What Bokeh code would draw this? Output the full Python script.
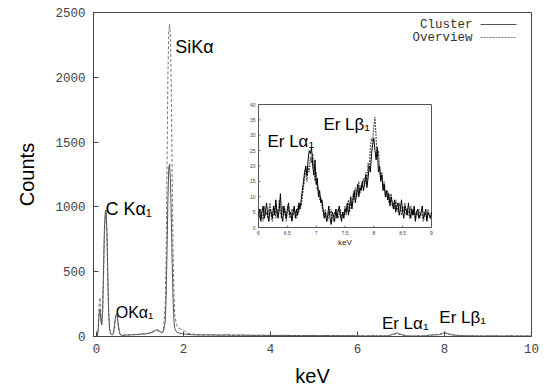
import numpy as np
from bokeh.plotting import figure
from bokeh.models import Range1d, FixedTicker
from bokeh.core.properties import value
from bokeh.embed import file_html
from bokeh.resources import INLINE

# ---------------- data (counts) ----------------
# low-energy part (C, O and Si peaks), explicit energies in keV
e_low = [0.02, 0.04, 0.06, 0.08, 0.10, 0.12, 0.14, 0.16, 0.18, 0.20, 0.22, 0.24, 0.26, 0.28,
         0.30, 0.32, 0.34, 0.36, 0.38, 0.40, 0.42, 0.44, 0.46, 0.48, 0.50, 0.52, 0.54, 0.56,
         0.60, 0.65, 0.70, 0.75, 0.80, 0.85, 0.90, 0.95, 1.00, 1.05, 1.10, 1.15, 1.20, 1.25,
         1.30, 1.35, 1.40, 1.45, 1.50, 1.54, 1.58,
         1.60, 1.62, 1.64, 1.66, 1.68, 1.70, 1.72, 1.74, 1.76, 1.78, 1.80,
         1.84, 1.88, 1.92, 1.96, 2.00, 2.05, 2.10, 2.20, 2.30, 2.40]
cluster_low = [0, 60, 180, 210, 120, 90, 200, 500, 820, 960, 975, 800, 450, 180,
               60, 25, 15, 12, 20, 50, 110, 160, 175, 150, 90, 45, 20, 10,
               8, 10, 12, 10, 14, 12, 16, 14, 18, 20, 18, 22, 25, 28,
               35, 48, 52, 40, 30, 40, 120,
               300, 650, 1050, 1300, 1330, 1200, 900, 550, 280, 120, 60,
               35, 28, 25, 22, 20, 18, 16, 14, 12, 12]
overview_low = [0, 80, 250, 300, 170, 100, 180, 450, 780, 930, 950, 760, 420, 170,
                60, 25, 15, 12, 18, 45, 100, 150, 160, 140, 85, 40, 18, 10,
                10, 12, 14, 15, 12, 16, 14, 18, 15, 22, 20, 25, 24, 30,
                38, 50, 45, 35, 28, 60, 250,
                600, 1300, 2000, 2350, 2410, 2300, 1850, 1200, 650, 320, 160,
                90, 70, 60, 55, 50, 35, 25, 18, 15, 13]

# 2.5 - 5.9 keV channels (0.1 keV)
e_mid = np.round(np.arange(2.5, 5.95, 0.1), 2)
cluster_mid = [12, 11, 13, 10, 11, 12, 9, 10, 11, 9, 10, 8, 9, 10, 8, 9, 7, 8, 9, 8,
               7, 8, 6, 7, 8, 7, 6, 7, 8, 6, 7, 6, 5, 7, 6]
overview_mid = [13, 12, 11, 12, 10, 11, 12, 10, 9, 11, 9, 10, 8, 9, 10, 8, 9, 8, 7, 9,
                8, 7, 8, 6, 7, 8, 6, 7, 6, 7, 5, 6, 7, 5, 6]

# 6.0 - 9.0 keV channels (0.02 keV), Er L lines
e_er = np.round(np.arange(6.0, 9.001, 0.02), 2)
cluster_er = [4, 6, 2, 5, 7, 3, 5, 8, 4, 2, 6, 5, 3, 7, 4, 9, 5, 3, 6, 11, 4, 2, 7, 5, 3, 6, 8, 4, 5, 2,
              5, 7, 3, 6, 4, 8, 6, 9, 12, 15,
              18, 20, 17, 22, 25, 24, 26, 20, 17, 22, 14, 16, 10, 12, 8, 9,
              6, 3, 5, 2, 4, 7, 3, 1, 5, 4, 2, 6, 3, 5, 7, 4, 2, 5, 3, 6,
              5, 8, 4, 7, 10, 6, 9, 12, 8, 11, 14, 10, 13, 12,
              15, 12, 14, 17, 13, 16, 20, 18, 24, 27, 29, 25, 22, 26, 18, 20, 15, 17, 12, 14, 10,
              12, 9, 11, 7, 10, 8, 6, 9, 5, 7, 8, 4, 6, 9, 5, 3, 7, 6, 4, 8,
              5, 3, 6, 4, 7, 2, 5, 6, 3, 4, 5, 7, 3, 4, 6, 2, 5, 4, 3, 5]
overview_er = [5, 3, 6, 4, 2, 7, 4, 5, 3, 6, 8, 4, 2, 5, 7, 3, 6, 4, 9, 5, 3, 7, 4, 6, 2, 5, 7, 3, 4, 6,
               4, 6, 5, 3, 7, 5, 8, 7, 10, 13,
               16, 19, 15, 20, 18, 23, 21, 24, 19, 15, 18, 12, 13, 9, 10, 7,
               5, 4, 6, 3, 2, 5, 4, 6, 3, 2, 5, 4, 6, 3, 4, 6, 3, 5, 4, 7,
               4, 6, 9, 5, 8, 7, 11, 9, 13, 10, 12, 15, 11, 14,
               13, 16, 14, 18, 15, 21, 19, 26, 29, 28, 33, 36, 29, 23, 25, 19, 16, 18, 13, 15, 11,
               10, 12, 8, 9, 11, 7, 8, 6, 9, 7, 5, 8, 6, 4, 7, 5, 8, 4, 6, 5,
               3, 7, 5, 4, 6, 3, 5, 4, 6, 3, 5, 4, 2, 5, 4, 3, 6, 4, 3, 4]

# 9.1 - 10.0 keV channels (0.1 keV)
e_high = np.round(np.arange(9.1, 10.001, 0.1), 2)
cluster_high = [4, 5, 3, 4, 5, 3, 4, 3, 4, 3]
overview_high = [5, 4, 4, 3, 5, 4, 3, 4, 3, 4]

main_xticks = [0, 2, 4, 6, 8, 10]
main_yticks = [0, 500, 1000, 1500, 2000, 2500]
inset_xticks = [6, 6.5, 7, 7.5, 8, 8.5, 9]
inset_xtick_labels = ["6", "6.5", "7", "7.5", "8", "8.5", "9"]
inset_yticks = [0, 5, 10, 15, 20, 25, 30, 35, 40]
series_names = ["Cluster", "Overview"]

energy = np.concatenate([e_low, e_mid, e_er, e_high])
cluster = np.concatenate([cluster_low, cluster_mid, cluster_er, cluster_high])
overview = np.concatenate([overview_low, overview_mid, overview_er, overview_high])

# ---------------- layout constants (page pixels) ----------------
OFF = 0                                      # observed page offset of the canvas
W, H = 540, 389
FX0, FX1, FY0, FY1 = 93, 531, 12, 336        # main frame
IX0, IX1, IY0, IY1 = 258, 431, 104, 227      # inset box
INX = (6.0, 9.0)
INY = (0.0, 40.0)

mono = value("Liberation Mono")
sans = value("Liberation Sans")

p = figure(width=W, height=H, x_range=Range1d(-0.07, 10), y_range=Range1d(0, 2500),
           output_backend="svg", toolbar_location=None,
           min_border_left=FX0 - OFF, min_border_right=W + OFF - FX1,
           min_border_top=FY0 - OFF, min_border_bottom=H + OFF - FY1)
p.grid.visible = False
p.outline_line_color = "#444444"
p.background_fill_color = "white"
p.border_fill_color = "white"

for ax in (p.xaxis[0], p.yaxis[0]):
    ax.major_tick_in = 5
    ax.major_tick_out = 0
    ax.minor_tick_line_color = None
    ax.axis_line_color = "#444444"
    ax.major_tick_line_color = "#444444"
    ax.major_label_text_font = "Liberation Mono"
    ax.major_label_text_font_size = "12.5px"
    ax.major_label_text_color = "#444444"
    ax.axis_label_text_font = "Liberation Sans"
    ax.axis_label_text_font_size = "20px"
    ax.axis_label_text_font_style = "normal"
    ax.axis_label_text_color = "black"

p.xaxis.ticker = FixedTicker(ticks=main_xticks)
p.yaxis.ticker = FixedTicker(ticks=main_yticks)
p.xaxis.axis_label = "keV"
p.yaxis.axis_label = "Counts"
p.xaxis.major_label_standoff = 7
p.xaxis.axis_label_standoff = 9
p.yaxis.major_label_standoff = 8
p.yaxis.axis_label_standoff = 14

# extra ranges: inset mapping and pixel mapping
ixs = (INX[1] - INX[0]) / (IX1 - IX0)
iys = (INY[1] - INY[0]) / (IY1 - IY0)
p.extra_x_ranges = {
    "ix": Range1d(INX[0] - (IX0 - FX0) * ixs, INX[1] + (FX1 - IX1) * ixs),
    "px": Range1d(FX0, FX1),
}
p.extra_y_ranges = {
    "iy": Range1d(INY[0] - (FY1 - IY1) * iys, INY[1] + (IY0 - FY0) * iys),
    "py": Range1d(FY1, FY0),
}

# main spectrum
p.line(energy, overview, line_color="#777777", line_width=1, line_dash="3 2")
p.line(energy, cluster, line_color="#555555", line_width=1)

# peak labels
def lab(x, y, t, size, **kw):
    p.text(x=[x], y=[y], text=[t], text_font=sans, text_font_size=size,
           text_color="black", text_baseline="alphabetic", **kw)

lab(1.81, 2235, "SiKα", "18px")
lab(0.205, 985, "C Kα₁", "18px")
lab(0.44, 185, "OKα₁", "16px")
lab(6.56, 100, "Er Lα₁", "17px")
lab(7.88, 150, "Er Lβ₁", "17px")

# ---------------- inset ----------------
ik = dict(x_range_name="ix", y_range_name="iy")
p.quad(left=[INX[0]], right=[INX[1]], bottom=[INY[0]], top=[INY[1]],
       fill_color="white", line_color="#555555", line_width=1, **ik)
mask = (energy >= INX[0]) & (energy <= INX[1])
p.line(energy[mask], overview[mask], line_color="#555555", line_width=1.2, line_dash="2 1", **ik)
p.line(energy[mask], cluster[mask], line_color="black", line_width=1, **ik)

tick_px = 2
p.segment(x0=[INX[0]] * len(inset_yticks), y0=inset_yticks,
          x1=[INX[0] + tick_px * ixs] * len(inset_yticks), y1=inset_yticks,
          line_color="#555555", line_width=0.8, **ik)
p.segment(x0=inset_xticks, y0=[INY[0]] * len(inset_xticks),
          x1=inset_xticks, y1=[INY[0] + tick_px * iys] * len(inset_xticks),
          line_color="#555555", line_width=0.8, **ik)
p.text(x=[INX[0] - 3 * ixs] * len(inset_yticks), y=inset_yticks,
       text=[str(t) for t in inset_yticks], text_font=sans, text_font_size="5px",
       text_color="#444444", text_align="right", text_baseline="middle", **ik)
p.text(x=inset_xticks, y=[INY[0] - 3 * iys] * len(inset_xticks),
       text=inset_xtick_labels, text_font=sans, text_font_size="5px",
       text_color="#444444", text_align="center", text_baseline="top", **ik)
p.text(x=[(INX[0] + INX[1]) / 2], y=[INY[0] - 10 * iys], text=["keV"],
       text_font=sans, text_font_size="8px", text_color="#222222",
       text_align="center", text_baseline="top", **ik)
p.text(x=[6.155], y=[28], text=["Er Lα₁"], text_font=sans, text_font_size="17px",
       text_color="black", text_baseline="alphabetic", **ik)
p.text(x=[7.125], y=[33.5], text=["Er Lβ₁"], text_font=sans, text_font_size="17px",
       text_color="black", text_baseline="alphabetic", **ik)

# ---------------- legend (text left, sample right) ----------------
pk = dict(x_range_name="px", y_range_name="py")
p.text(x=[472, 472], y=[24, 37], text=series_names, text_font=mono,
       text_font_size="12.5px", text_color="#333333", text_align="right",
       text_baseline="middle", **pk)
p.line([480, 516], [24, 24], line_color="#555555", line_width=1, **pk)
p.line([480, 516], [37, 37], line_color="#777777", line_width=1, line_dash="2 1", **pk)

open("out.html", "w").write(file_html(p, INLINE))
